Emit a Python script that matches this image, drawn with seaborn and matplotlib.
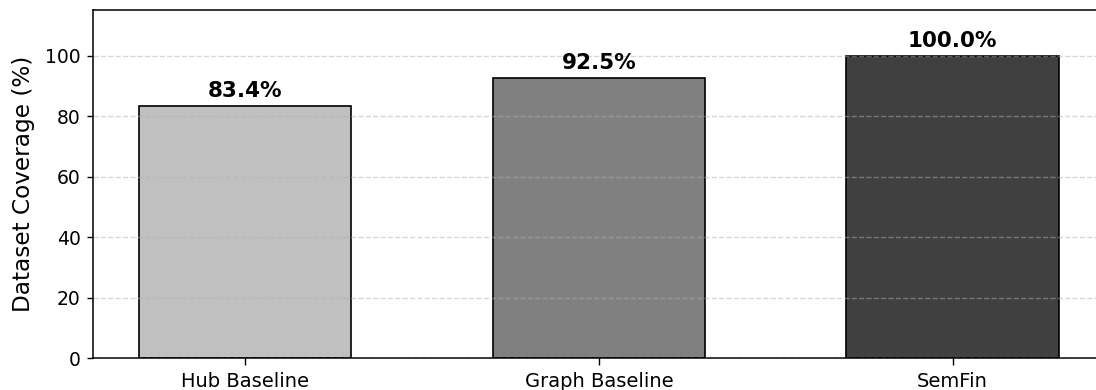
import matplotlib
matplotlib.use("Agg")
import matplotlib.pyplot as plt
import seaborn as sns
import pandas as pd

# Coverage of the dataset reached by each method
methods = ["Hub Baseline", "Graph Baseline", "SemFin"]
coverage = [83.4, 92.5, 100.0]
bar_colors = ["#C0C0C0", "#808080", "#404040"]
y_ticks = [0, 20, 40, 60, 80, 100]

plt.rcParams["font.family"] = ["DejaVu Sans"]
plt.rcParams["text.color"] = "black"
plt.rcParams["axes.labelcolor"] = "black"

df = pd.DataFrame({"method": methods, "coverage": coverage})

fig = plt.figure(figsize=(10.96, 3.9), dpi=100)
ax = fig.add_axes([0.0849, 0.082, 0.923, 0.892])

sns.barplot(data=df, x="method", y="coverage", hue="method",
            palette=bar_colors, width=0.6, edgecolor="black",
            linewidth=1.2, legend=False, saturation=1, ax=ax)

# value labels above each bar
for i, v in enumerate(coverage):
    ax.text(i, v + 1.6, f"{v:.1f}%", ha="center", va="bottom",
            fontsize=15.5, fontweight="bold", color="black")

ax.set_xlim(-0.43, 2.43)
ax.set_ylim(0, 115)
ax.set_yticks(y_ticks)
ax.set_xlabel("")
ax.set_ylabel("Dataset Coverage (%)", fontsize=16.7, labelpad=7)
ax.tick_params(axis="y", labelsize=13.5, length=4.5, width=1.0, pad=4.5, colors="black")
ax.tick_params(axis="x", labelsize=14, length=5, width=1.0, pad=5, colors="black")
ax.set_axisbelow(False)
ax.yaxis.grid(True, linestyle="--", color="#b0b0b0", alpha=0.5, linewidth=1.0)
ax.xaxis.grid(False)
for s in ax.spines.values():
    s.set_linewidth(1.1)
    s.set_color("black")
    s.set_visible(True)

fig.savefig("out.png", dpi=100)
